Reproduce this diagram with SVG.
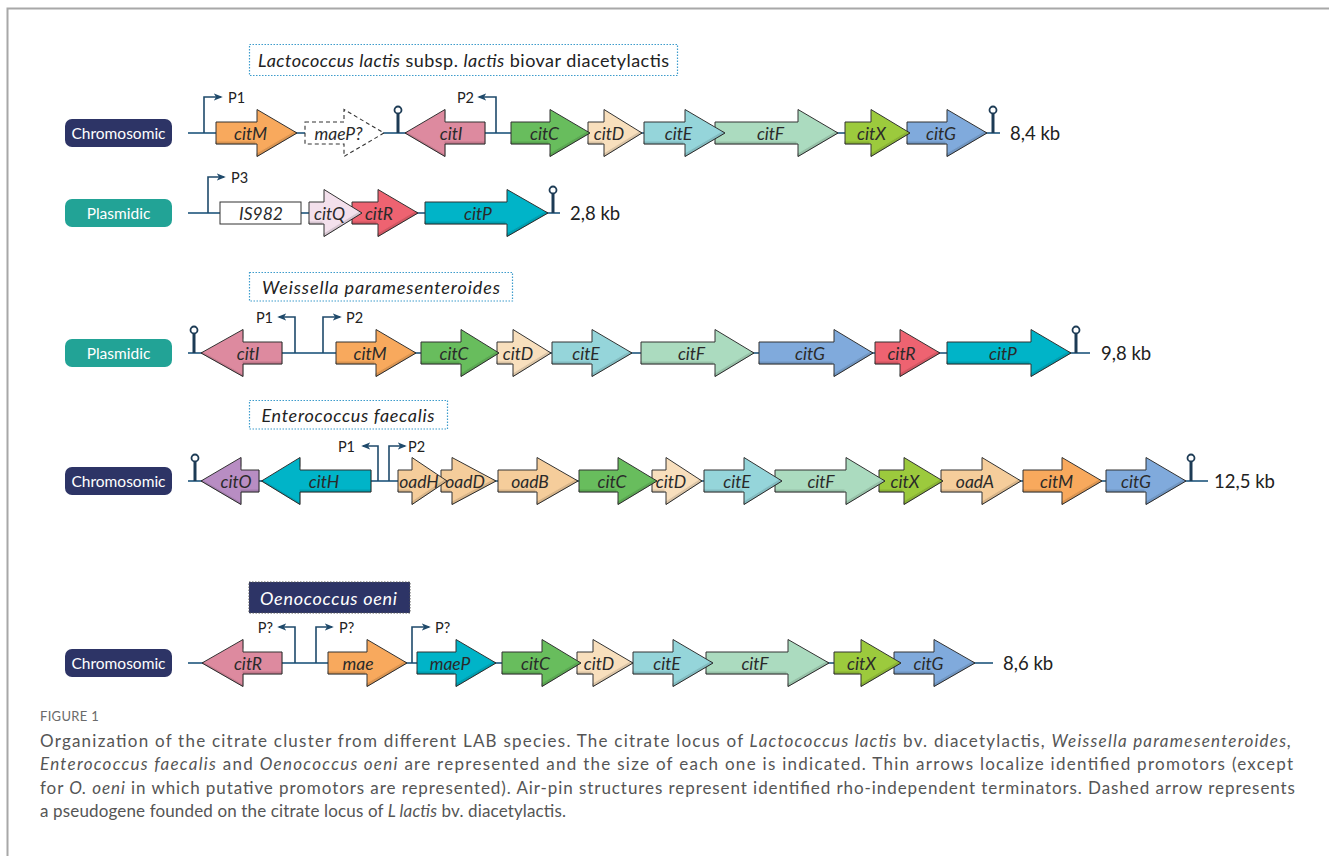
<svg xmlns="http://www.w3.org/2000/svg" width="1329" height="856" viewBox="0 0 1329 856">
<defs>
<style>
.frame{stroke:#a8a8a8;stroke-width:2;fill:none}
.bb{stroke:#4b7796;stroke-width:2;fill:none}
.pr{stroke:#1f4a6b;stroke-width:1.6;fill:none;marker-end:url(#ah)}
.gene{stroke:#333;stroke-width:1;filter:url(#bev)}
.dash{stroke:#333;stroke-width:1.1;fill:#fff;stroke-dasharray:4 3}
.gl{font-family:Lato,"Liberation Sans",sans-serif;font-style:italic;font-size:17.5px;fill:#2a2a2a;text-anchor:middle;dominant-baseline:central}
.pl{font-family:Lato,"Liberation Sans",sans-serif;font-size:14.5px;fill:#222;dominant-baseline:central}
.kb{font-family:Lato,"Liberation Sans",sans-serif;font-size:18.5px;fill:#222;dominant-baseline:central}
.pill text{font-family:Lato,"Liberation Sans",sans-serif;font-size:15.5px;fill:#fff;text-anchor:middle;dominant-baseline:central}
.chr{fill:#2d3466}
.pla{fill:#22a396}
.term line{stroke:#1d3b55;stroke-width:3}
.term circle{fill:#fff;stroke:#1d3b55;stroke-width:1.8}
.tb{fill:#fff;stroke:#3d9ccc;stroke-width:1.2;stroke-dasharray:1.5 1.5}
.tt{font-family:Lato,"Liberation Sans",sans-serif;font-size:18px;fill:#222;dominant-baseline:central}
.it{font-style:italic}
.cap{font-family:Lato,"Liberation Sans",sans-serif;font-size:17px;fill:#555}
.or{fill:#f8a95d}.pk{fill:#dd8a9f}.gr{fill:#68bd5d}.pe{fill:#f8dfbd}.cy{fill:#95d5da}.lg{fill:#abdbbf}
.li{fill:#9cca3c}.bl{fill:#80aadc}.rd{fill:#ee6371}.tq{fill:#00b4c8}.lp{fill:#f3e0ec}.pu{fill:#b88dc3}.tn{fill:#f5cd9b}
</style>
<marker id="ah" viewBox="0 0 10 10" refX="8" refY="5" markerWidth="9" markerHeight="9" markerUnits="userSpaceOnUse" orient="auto">
<path d="M0,1 L10,5 L0,9 L2.5,5 Z" fill="#1f4a6b"/>
</marker>
<filter id="bev" x="-5%" y="-10%" width="110%" height="120%">
<feOffset in="SourceAlpha" dx="-1.5" dy="-3" result="o"/>
<feComposite in="SourceAlpha" in2="o" operator="out" result="e"/>
<feFlood flood-color="#000" flood-opacity="0.25"/>
<feComposite in2="e" operator="in" result="s"/>
<feMerge><feMergeNode in="SourceGraphic"/><feMergeNode in="s"/></feMerge>
</filter>
</defs>
<rect width="1329" height="856" fill="#fff"/>
<path class="frame" d="M7.5,856 V8.5 H1329"/>

<!-- Titles -->
<g id="title-lactococcus">
<rect class="tb" x="249.5" y="44.5" width="428" height="31"/>
<text class="tt" x="258" y="60" textLength="411" lengthAdjust="spacing"><tspan class="it">Lactococcus lactis</tspan> subsp. <tspan class="it">lactis</tspan> biovar diacetylactis</text>
</g>
<g id="title-weissella">
<rect class="tb" x="249.5" y="272.5" width="263" height="28.5"/>
<text class="tt it" x="262" y="287" textLength="238" lengthAdjust="spacing">Weissella paramesenteroides</text>
</g>
<g id="title-enterococcus">
<rect class="tb" x="249.5" y="400.5" width="198" height="28.5"/>
<text class="tt it" x="261.5" y="415" textLength="173" lengthAdjust="spacing">Enterococcus faecalis</text>
</g>
<g id="title-oenococcus">
<rect x="249" y="582" width="161" height="31" fill="#2d3466" stroke="#555" stroke-width="1" stroke-dasharray="1.5 1.5"/>
<text class="tt it" x="260" y="598" style="fill:#fff" textLength="137" lengthAdjust="spacing">Oenococcus oeni</text>
</g>

<!-- Row labels -->
<g id="pill-r1" class="pill"><rect class="chr" x="65" y="119" width="107" height="28" rx="7"/><text x="118.5" y="133">Chromosomic</text></g>
<g id="pill-r2" class="pill"><rect class="pla" x="65" y="199" width="107" height="28" rx="7"/><text x="118.5" y="213">Plasmidic</text></g>
<g id="pill-r3" class="pill"><rect class="pla" x="65" y="339" width="107" height="28" rx="7"/><text x="118.5" y="353">Plasmidic</text></g>
<g id="pill-r4" class="pill"><rect class="chr" x="65" y="467" width="107" height="28" rx="7"/><text x="118.5" y="481">Chromosomic</text></g>
<g id="pill-r5" class="pill"><rect class="chr" x="65" y="649" width="107" height="28" rx="7"/><text x="118.5" y="663">Chromosomic</text></g>

<!-- Connectors: backbones and promoters -->
<g id="connectors">
<line class="bb" x1="188" y1="133" x2="1000" y2="133"/>
<line class="bb" x1="188" y1="213" x2="560" y2="213"/>
<line class="bb" x1="188" y1="353" x2="1090" y2="353"/>
<line class="bb" x1="188" y1="481" x2="1208" y2="481"/>
<line class="bb" x1="188" y1="663" x2="993" y2="663"/>
<path class="pr" d="M204,133 V97 H221"/>
<path class="pr" d="M496,133 V97 H479"/>
<path class="pr" d="M208,213 V177 H224"/>
<path class="pr" d="M295,353 V317 H279"/>
<path class="pr" d="M323,353 V317 H340"/>
<path class="pr" d="M378,481 V446 H363"/>
<path class="pr" d="M389,481 V446 H405"/>
<path class="pr" d="M295,663 V627 H279"/>
<path class="pr" d="M316,663 V627 H332"/>
<path class="pr" d="M412,663 V627 H429"/>
</g>

<!-- Promoter labels -->
<g id="promoter-labels">
<text class="pl" x="228" y="97">P1</text>
<text class="pl" x="474" y="97" text-anchor="end">P2</text>
<text class="pl" x="231" y="177">P3</text>
<text class="pl" x="273" y="317" text-anchor="end">P1</text>
<text class="pl" x="346" y="317">P2</text>
<text class="pl" x="355" y="446" text-anchor="end">P1</text>
<text class="pl" x="408" y="446">P2</text>
<text class="pl" x="273" y="627" text-anchor="end">P?</text>
<text class="pl" x="339" y="627">P?</text>
<text class="pl" x="435" y="627">P?</text>
</g>

<!-- Terminators -->
<g id="term-r1a" class="term"><line x1="398" y1="133" x2="398" y2="114"/><circle cx="398" cy="110" r="3.5"/></g>
<g id="term-r1b" class="term"><line x1="993" y1="133" x2="993" y2="114"/><circle cx="993" cy="110" r="3.5"/></g>
<g id="term-r2" class="term"><line x1="553" y1="213" x2="553" y2="194"/><circle cx="553" cy="190" r="3.5"/></g>
<g id="term-r3a" class="term"><line x1="194" y1="353" x2="194" y2="334"/><circle cx="194" cy="330" r="3.5"/></g>
<g id="term-r3b" class="term"><line x1="1076" y1="353" x2="1076" y2="334"/><circle cx="1076" cy="330" r="3.5"/></g>
<g id="term-r4a" class="term"><line x1="195" y1="481" x2="195" y2="462"/><circle cx="195" cy="458" r="3.5"/></g>
<g id="term-r4b" class="term"><line x1="1191" y1="481" x2="1191" y2="462"/><circle cx="1191" cy="458" r="3.5"/></g>

<!-- Row 1: Lactococcus chromosomic -->
<g id="r1-citG"><path class="gene bl" d="M907,122 H947 V109.5 L987,133 L947,156.5 V144 H907 Z"/><text class="gl" x="941" y="133">citG</text></g>
<g id="r1-citX"><path class="gene li" d="M845,122 H871 V109.5 L910,133 L871,156.5 V144 H845 Z"/><text class="gl" x="871.5" y="133">citX</text></g>
<g id="r1-citF"><path class="gene lg" d="M715,122 H798 V109.5 L838,133 L798,156.5 V144 H715 Z"/><text class="gl" x="770.5" y="133">citF</text></g>
<g id="r1-citE"><path class="gene cy" d="M644,122 H685 V109.5 L725,133 L685,156.5 V144 H644 Z"/><text class="gl" x="678.5" y="133">citE</text></g>
<g id="r1-citD"><path class="gene pe" d="M588,122 H604 V109.5 L642,133 L604,156.5 V144 H588 Z"/><text class="gl" x="609" y="133">citD</text></g>
<g id="r1-citC"><path class="gene gr" d="M511,122 H550 V109.5 L590,133 L550,156.5 V144 H511 Z"/><text class="gl" x="544.5" y="133">citC</text></g>
<g id="r1-citI"><path class="gene pk" d="M485,122 H445 V109.5 L405,133 L445,156.5 V144 H485 Z"/><text class="gl" x="451" y="133">citI</text></g>
<g id="r1-maeP"><path class="dash" d="M305,122 H344 V109.5 L384,133 L344,156.5 V144 H305 Z"/><text class="gl" x="338.5" y="133">maeP?</text></g>
<g id="r1-citM"><path class="gene or" d="M216,122 H257 V109.5 L297,133 L257,156.5 V144 H216 Z"/><text class="gl" x="250.5" y="133">citM</text></g>
<text id="r1-size" class="kb" x="1010" y="133">8,4 kb</text>

<!-- Row 2: Lactococcus plasmidic -->
<g id="r2-citP"><path class="gene tq" d="M425,202 H507 V189.5 L548,213 L507,236.5 V224 H425 Z"/><text class="gl" x="478" y="213">citP</text></g>
<g id="r2-citR"><path class="gene rd" d="M352,202 H378 V189.5 L418,213 L378,236.5 V224 H352 Z"/><text class="gl" x="379" y="213">citR</text></g>
<g id="r2-citQ"><path class="gene lp" d="M309,202 H324 V189.5 L362,213 L324,236.5 V224 H309 Z"/><text class="gl" x="329.5" y="213">citQ</text></g>
<g id="r2-IS982"><rect x="220" y="202" width="81" height="22" fill="#fff" stroke="#333" stroke-width="1"/><text class="gl" x="261" y="213">IS982</text></g>
<text id="r2-size" class="kb" x="570" y="213">2,8 kb</text>

<!-- Row 3: Weissella -->
<g id="r3-citP"><path class="gene tq" d="M947,342 H1031 V329.5 L1071,353 L1031,376.5 V364 H947 Z"/><text class="gl" x="1003" y="353">citP</text></g>
<g id="r3-citR"><path class="gene rd" d="M875,342 H900 V329.5 L940,353 L900,376.5 V364 H875 Z"/><text class="gl" x="901.5" y="353">citR</text></g>
<g id="r3-citG"><path class="gene bl" d="M759,342 H834 V329.5 L873,353 L834,376.5 V364 H759 Z"/><text class="gl" x="810" y="353">citG</text></g>
<g id="r3-citF"><path class="gene lg" d="M641,342 H715 V329.5 L754,353 L715,376.5 V364 H641 Z"/><text class="gl" x="691.5" y="353">citF</text></g>
<g id="r3-citE"><path class="gene cy" d="M552,342 H592 V329.5 L632,353 L592,376.5 V364 H552 Z"/><text class="gl" x="586" y="353">citE</text></g>
<g id="r3-citD"><path class="gene pe" d="M497,342 H513 V329.5 L551,353 L513,376.5 V364 H497 Z"/><text class="gl" x="518" y="353">citD</text></g>
<g id="r3-citC"><path class="gene gr" d="M421,342 H461 V329.5 L499,353 L461,376.5 V364 H421 Z"/><text class="gl" x="454" y="353">citC</text></g>
<g id="r3-citM"><path class="gene or" d="M336,342 H376 V329.5 L416,353 L376,376.5 V364 H336 Z"/><text class="gl" x="370" y="353">citM</text></g>
<g id="r3-citI"><path class="gene pk" d="M282,342 H243 V329.5 L201,353 L243,376.5 V364 H282 Z"/><text class="gl" x="248" y="353">citI</text></g>
<text id="r3-size" class="kb" x="1101" y="353">9,8 kb</text>

<!-- Row 4: Enterococcus -->
<g id="r4-citG"><path class="gene bl" d="M1106,470 H1146 V457.5 L1186,481 L1146,504.5 V492 H1106 Z"/><text class="gl" x="1136" y="481">citG</text></g>
<g id="r4-citM"><path class="gene or" d="M1023,470 H1062 V457.5 L1102,481 L1062,504.5 V492 H1023 Z"/><text class="gl" x="1056.5" y="481">citM</text></g>
<g id="r4-oadA"><path class="gene tn" d="M941,470 H982 V457.5 L1021,481 L982,504.5 V492 H941 Z"/><text class="gl" x="975" y="481">oadA</text></g>
<g id="r4-citX"><path class="gene li" d="M879,470 H904 V457.5 L943,481 L904,504.5 V492 H879 Z"/><text class="gl" x="905" y="481">citX</text></g>
<g id="r4-citF"><path class="gene lg" d="M775,470 H846 V457.5 L885,481 L846,504.5 V492 H775 Z"/><text class="gl" x="821" y="481">citF</text></g>
<g id="r4-citE"><path class="gene cy" d="M704,470 H744 V457.5 L782,481 L744,504.5 V492 H704 Z"/><text class="gl" x="737" y="481">citE</text></g>
<g id="r4-citD"><path class="gene pe" d="M652,470 H666 V457.5 L702,481 L666,504.5 V492 H652 Z"/><text class="gl" x="671" y="481">citD</text></g>
<g id="r4-citC"><path class="gene gr" d="M579,470 H618 V457.5 L657,481 L618,504.5 V492 H579 Z"/><text class="gl" x="612" y="481">citC</text></g>
<g id="r4-oadB"><path class="gene tn" d="M498,470 H537 V457.5 L578,481 L537,504.5 V492 H498 Z"/><text class="gl" x="530" y="481">oadB</text></g>
<g id="r4-oadD"><path class="gene tn" d="M441,470 H452 V457.5 L496,481 L452,504.5 V492 H441 Z"/><text class="gl" x="465" y="481">oadD</text></g>
<g id="r4-oadH"><path class="gene tn" d="M398,470 H412 V457.5 L447,481 L412,504.5 V492 H398 Z"/><text class="gl" x="419" y="481">oadH</text></g>
<g id="r4-citO"><path class="gene pu" d="M259,470 H241 V457.5 L201,481 L241,504.5 V492 H259 Z"/><text class="gl" x="236" y="481">citO</text></g>
<g id="r4-citH"><path class="gene tq" d="M371,470 H300 V457.5 L261.5,481 L300,504.5 V492 H371 Z"/><text class="gl" x="324" y="481">citH</text></g>
<text id="r4-size" class="kb" x="1214" y="481">12,5 kb</text>

<!-- Row 5: Oenococcus -->
<g id="r5-citG"><path class="gene bl" d="M894,652 H934 V639.5 L975,663 L934,686.5 V674 H894 Z"/><text class="gl" x="928.5" y="663">citG</text></g>
<g id="r5-citX"><path class="gene li" d="M834,652 H861 V639.5 L901,663 L861,686.5 V674 H834 Z"/><text class="gl" x="861.5" y="663">citX</text></g>
<g id="r5-citF"><path class="gene lg" d="M706,652 H788 V639.5 L829,663 L788,686.5 V674 H706 Z"/><text class="gl" x="755" y="663">citF</text></g>
<g id="r5-citE"><path class="gene cy" d="M633,652 H673 V639.5 L713,663 L673,686.5 V674 H633 Z"/><text class="gl" x="667" y="663">citE</text></g>
<g id="r5-citD"><path class="gene pe" d="M577,652 H593 V639.5 L633,663 L593,686.5 V674 H577 Z"/><text class="gl" x="599" y="663">citD</text></g>
<g id="r5-citC"><path class="gene gr" d="M502,652 H542 V639.5 L581,663 L542,686.5 V674 H502 Z"/><text class="gl" x="535.5" y="663">citC</text></g>
<g id="r5-maeP"><path class="gene tq" d="M417,652 H456 V639.5 L496,663 L456,686.5 V674 H417 Z"/><text class="gl" x="450" y="663">maeP</text></g>
<g id="r5-mae"><path class="gene or" d="M328,652 H367 V639.5 L407,663 L367,686.5 V674 H328 Z"/><text class="gl" x="358" y="663">mae</text></g>
<g id="r5-citR"><path class="gene pk" d="M282,652 H243 V639.5 L202,663 L243,686.5 V674 H282 Z"/><text class="gl" x="248" y="663">citR</text></g>
<text id="r5-size" class="kb" x="1003" y="663">8,6 kb</text>

<!-- Caption -->
<g id="caption">
<text x="40" y="721" style="font-family:Lato,'Liberation Sans',sans-serif;font-size:13px;fill:#6a6a6a;letter-spacing:0.3px">FIGURE 1</text>
<text class="cap" x="40" y="747" textLength="1251" lengthAdjust="spacing">Organization of the citrate cluster from different LAB species. The citrate locus of <tspan class="it">Lactococcus lactis</tspan> bv. diacetylactis, <tspan class="it">Weissella paramesenteroides,</tspan></text>
<text class="cap" x="40" y="770" textLength="1253" lengthAdjust="spacing"><tspan class="it">Enterococcus faecalis</tspan> and <tspan class="it">Oenococcus oeni</tspan> are represented and the size of each one is indicated. Thin arrows localize identified promotors (except</text>
<text class="cap" x="40" y="794" textLength="1255" lengthAdjust="spacing">for <tspan class="it">O. oeni</tspan> in which putative promotors are represented). Air-pin structures represent identified rho-independent terminators. Dashed arrow represents</text>
<text class="cap" x="40" y="817" textLength="526" lengthAdjust="spacing">a pseudogene founded on the citrate locus of <tspan class="it">L lactis</tspan> bv. diacetylactis.</text>
</g>
</svg>
